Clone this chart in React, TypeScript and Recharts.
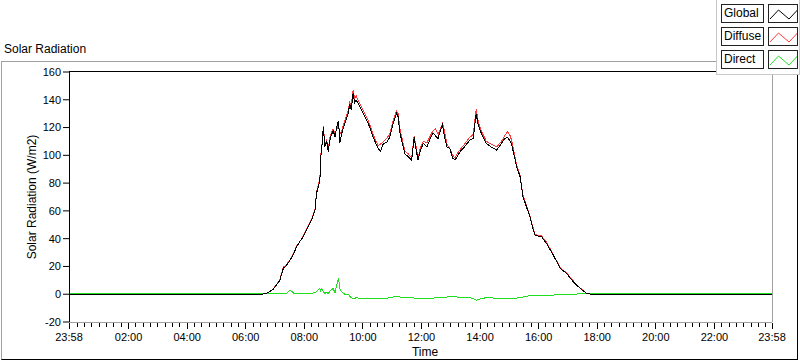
import React from "react";
import { CartesianGrid, Line, LineChart, XAxis, YAxis } from "recharts";

// minutes after the 23:58 start of the record
const minutes = [
  0, 395, 405, 418, 432, 439, 446, 453, 460, 466, 473, 480, 490, 497, 504, 507, 514, 515, 518, 521,
  524, 528, 531, 535, 541, 545, 548, 552, 555, 558, 565, 572, 575, 578, 582, 585, 588, 596, 603, 613,
  623, 633, 638, 644, 650, 657, 664, 671, 674, 678, 688, 695, 702, 707, 711, 715, 720, 726, 733, 740,
  746, 751, 756, 760, 765, 770, 774, 780, 786, 791, 795, 801, 810, 821, 828, 834, 838, 842, 848, 855,
  865, 876, 886, 892, 898, 904, 907, 917, 924, 930, 937, 944, 954, 961, 968, 978, 992, 1006, 1019, 1033,
  1047, 1060, 1070, 1440,
];
const globalRad = [
  0, 0, 0.6, 3.5, 10, 18.6, 21, 24.6, 29, 34, 38, 41.4, 48.6, 53.4, 60.6, 72.6, 82, 96.6, 106, 120.6,
  106, 110, 102.6, 112, 118, 113, 120, 125, 109, 115, 123, 130, 137, 133, 144.6, 138, 140, 135, 130, 123,
  113, 105, 103, 108.6, 109, 113, 123, 130, 128, 116, 101, 99, 96.6, 113, 104, 96.6, 104, 108.6, 106, 112,
  116, 114, 112, 117, 121.8, 112, 106, 105, 98, 96.6, 99, 102.6, 106, 111, 112, 130, 122, 118, 113, 108.6,
  106, 103.8, 108.6, 112, 113, 110, 107.4, 91.8, 84.6, 70.2, 63, 55.8, 42.6, 41.8, 41.4, 36.6, 28.2, 18.6, 15, 9,
  4.2, 0.6, 0, 0,
];
const diffuseRad = [
  0, 0, 0.6, 3.5, 10.5, 19.5, 21.5, 25, 29.5, 34.5, 38, 42, 49, 54, 61.5, 73.5, 83, 97.5, 107, 121,
  108, 111, 104, 114, 119, 116, 118, 122, 115, 117, 125, 132, 138, 136, 147, 141, 143, 137, 132, 125,
  115, 107, 108, 110, 112, 115, 125, 132, 130, 119, 103, 101, 98, 114, 106, 98, 106, 110, 109, 114,
  118, 119, 115, 118, 123, 116, 108, 105, 100, 98, 101, 104, 108, 113, 115, 133, 125, 120, 115, 110,
  108, 106, 110, 114, 117, 114, 110, 93, 85.5, 71, 64, 56.5, 43.5, 42, 42, 37.5, 28.8, 19, 15.5, 9.5,
  4.5, 0.6, 0, 0,
];
const directRad = [
  0.7, 0.7, 0.6, 0.3, 0.2, 0.8, 0.5, 3, 0.8, 0.2, 0.5, 0.3, 0.5, 0.8, 1, 2, 4.2, 2.5, 4.2, 2,
  0.5, 1.5, 0.5, 2.5, 4, 1, 6, 11.4, 4, 2, 0, 0, -1.5, -2.5, -3, -3, -2.5, -3, -3.4, -3,
  -3, -3, -2.8, -3, -3, -2.5, -2, -1.5, -1.5, -2, -2.4, -2.5, -2.5, -2.8, -3, -3, -3, -3, -3, -3,
  -2.8, -2.6, -2.5, -2.4, -2.4, -2, -2, -1.8, -1.6, -1.5, -2, -2, -2.2, -2.5, -3, -4.3, -4, -3.5, -3, -2.4,
  -2.6, -3, -3.2, -3.4, -3.4, -3.2, -3, -2.8, -2.4, -2, -1.5, -1, -0.7, -0.8, -0.7, -0.7, -0.6, -0.4, -0.3, 0,
  0.3, 0.6, 0.7, 0.7,
];

const yTicks = [-20, 0, 20, 40, 60, 80, 100, 120, 140, 160];
const majorTicks = [0, 122, 242, 362, 482, 602, 722, 842, 962, 1082, 1202, 1322, 1440];
const minorTicks = Array.from({ length: 96 }, (_, k) => 2 + 15 * k).filter(
  (v) => v > 5 && v < 1435 && !majorTicks.includes(v)
);
const allTicks = [...majorTicks, ...minorTicks].sort((a, b) => a - b);

const legendItems = [
  { name: "Global", color: "#000000" },
  { name: "Diffuse", color: "#ff3b3b" },
  { name: "Direct", color: "#1fe01f" },
];

const data = minutes.map((t, i) => ({
  t,
  global: globalRad[i],
  diffuse: diffuseRad[i],
  direct: directRad[i],
}));

const FONT = '"Liberation Sans", Arial, sans-serif';

function fmtTime(t: number) {
  const m = (t + 1438) % 1440;
  const hh = String(Math.floor(m / 60)).padStart(2, "0");
  const mm = String(m % 60).padStart(2, "0");
  return `${hh}:${mm}`;
}

function TimeTick(props: any) {
  const { x, y, payload } = props;
  const major = majorTicks.includes(payload.value);
  return (
    <g>
      <line x1={x} x2={x} y1={y + 1} y2={y + (major ? 7 : 5)} stroke="#000" shapeRendering="crispEdges" />
      {major && (
        <text x={x} y={y + 19} textAnchor="middle" fontSize={11} fontFamily={FONT} fill="#000">
          {fmtTime(payload.value)}
        </text>
      )}
    </g>
  );
}

export default function App() {
  return (
    <div style={{ position: "absolute", left: 0, top: 0, width: 800, height: 361, background: "#fff", fontFamily: FONT }}>
      {/* outer graph frame */}
      <div
        style={{
          position: "absolute", left: 1, top: 61, width: 797, height: 299, boxSizing: "border-box",
          borderTop: "1px solid #a0a0a0", borderLeft: "1px solid #a0a0a0",
          borderRight: "1px solid #000", borderBottom: "1px solid #000",
        }}
      />
      <div style={{ position: "absolute", left: 4, top: 42, fontSize: 12, color: "#000" }}>Solar Radiation</div>

      <div style={{ position: "absolute", left: 0, top: 0 }}>
        <LineChart width={800} height={361} data={data} margin={{ top: 72, right: 28, bottom: 9, left: 9 }}>
          <CartesianGrid stroke="none" />
          <XAxis
            dataKey="t"
            type="number"
            domain={[0, 1440]}
            ticks={allTicks}
            interval={0}
            height={30}
            tickSize={0}
            tickMargin={0}
            tickLine={false}
            tick={<TimeTick />}
            axisLine={{ stroke: "#a0a0a0", shapeRendering: "crispEdges" }}
          />
          <YAxis
            type="number"
            domain={[-20, 160]}
            ticks={yTicks}
            interval={0}
            width={60}
            tickSize={6}
            tickMargin={2}
            tickLine={{ stroke: "#000" }}
            axisLine={{ stroke: "#000", shapeRendering: "crispEdges" }}
            tick={{ fill: "#000", fontSize: 11, fontFamily: FONT }}
          />
          <Line type="linear" dataKey="direct" stroke="#1fe01f" strokeWidth={1} dot={false} shapeRendering="crispEdges" isAnimationActive={false} />
          <Line type="linear" dataKey="diffuse" stroke="#ff3b3b" strokeWidth={1} dot={false} shapeRendering="crispEdges" isAnimationActive={false} />
          <Line type="linear" dataKey="global" stroke="#000" strokeWidth={1} dot={false} shapeRendering="crispEdges" isAnimationActive={false} />
        </LineChart>
      </div>

      {/* plot box top / right edges */}
      <div
        style={{
          position: "absolute", left: 69, top: 71, width: 704, height: 251, boxSizing: "border-box",
          borderTop: "1px solid #000", borderRight: "1px solid #a0a0a0", pointerEvents: "none",
        }}
      />

      <div
        style={{
          position: "absolute", left: 24, top: 197, fontSize: 12, color: "#000", whiteSpace: "nowrap",
          transform: "translate(-50%, -50%) rotate(-90deg)", transformOrigin: "center",
          marginLeft: 8,
        }}
      >
        Solar Radiation (W/m2)
      </div>
      <div style={{ position: "absolute", left: 425, top: 345, transform: "translateX(-50%)", fontSize: 12, color: "#000" }}>
        Time
      </div>

      {/* legend */}
      <div
        style={{
          position: "absolute", left: 716, top: 0, width: 84, height: 75, boxSizing: "border-box", background: "#fff",
          borderLeft: "1px solid #c8c8c8", borderRight: "1px solid #c8c8c8", borderBottom: "1px solid #c8c8c8",
        }}
      >
        {legendItems.map((item, i) => (
          <React.Fragment key={item.name}>
            <div
              style={{
                position: "absolute", left: 4, top: 4 + i * 23, width: 43, height: 19, boxSizing: "border-box",
                border: "1px solid #222", fontSize: 12, lineHeight: "17px", paddingLeft: 2, color: "#000",
              }}
            >
              {item.name}
            </div>
            <svg
              width={30}
              height={19}
              style={{ position: "absolute", left: 51, top: 4 + i * 23, border: "1px solid #222", boxSizing: "border-box" }}
            >
              <polyline points="1,14 9.5,5 20,14 28.5,5" fill="none" stroke={item.color} strokeWidth={1} />
            </svg>
          </React.Fragment>
        ))}
      </div>
    </div>
  );
}
